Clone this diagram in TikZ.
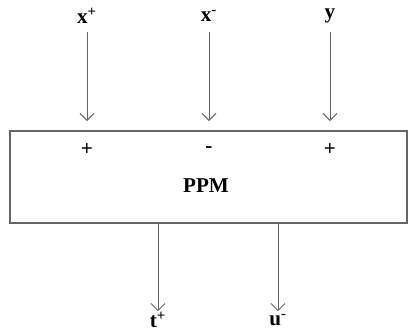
\documentclass[tikz,border=0pt]{standalone}
\usepackage{fontspec}
\setmainfont{Liberation Serif}
\usetikzlibrary{arrows.meta}
\tikzset{
  lbl/.style={font=\fontsize{15}{17}\bfseries\selectfont, inner sep=1pt},
  sgn/.style={font=\fontsize{15}{17}\bfseries\selectfont, inner sep=1pt},
  arr/.style={draw=black!60, line width=0.7pt, -{Straight Barb[length=5pt,width=10pt]}},
  blk/.style={draw=black!60, line width=1.3pt, minimum width=9.925cm, minimum height=2.3cm}
}
\begin{document}
\begin{tikzpicture}[x=0.025cm,y=-0.025cm]
    \useasboundingbox (0,0) rectangle (408,334);
    \node[blk] (ppm) at (208.5,177) {};
    \node[lbl] at (206,186) {PPM};
    % inputs
    \node[lbl] (xp) at (87,16) {x\textsuperscript{+}};
    \node[lbl] (xm) at (209,16) {x\textsuperscript{-}};
    \node[lbl] (yin) at (330,16) {y};
    \node[sgn] (sp) at (87,150) {+};
    \node[sgn] (sm) at (209,150) {-};
    \node[sgn] (sy) at (330,150) {+};
    \draw[arr,shorten <=0.4cm,shorten >=0.225cm] (xp.center) -- (xp |- ppm.north);
    \draw[arr,shorten <=0.4cm,shorten >=0.225cm] (xm.center) -- (xm |- ppm.north);
    \draw[arr,shorten <=0.4cm,shorten >=0.225cm] (yin.center) -- (yin |- ppm.north);
    % outputs
    \node[lbl] (tp) at (158,320) {t\textsuperscript{+}};
    \node[lbl] (um) at (278,320) {u\textsuperscript{-}};
    \draw[arr,shorten >=0.22cm] (tp |- ppm.south) -- (tp.center);
    \draw[arr,shorten >=0.22cm] (um |- ppm.south) -- (um.center);
\end{tikzpicture}
\end{document}
